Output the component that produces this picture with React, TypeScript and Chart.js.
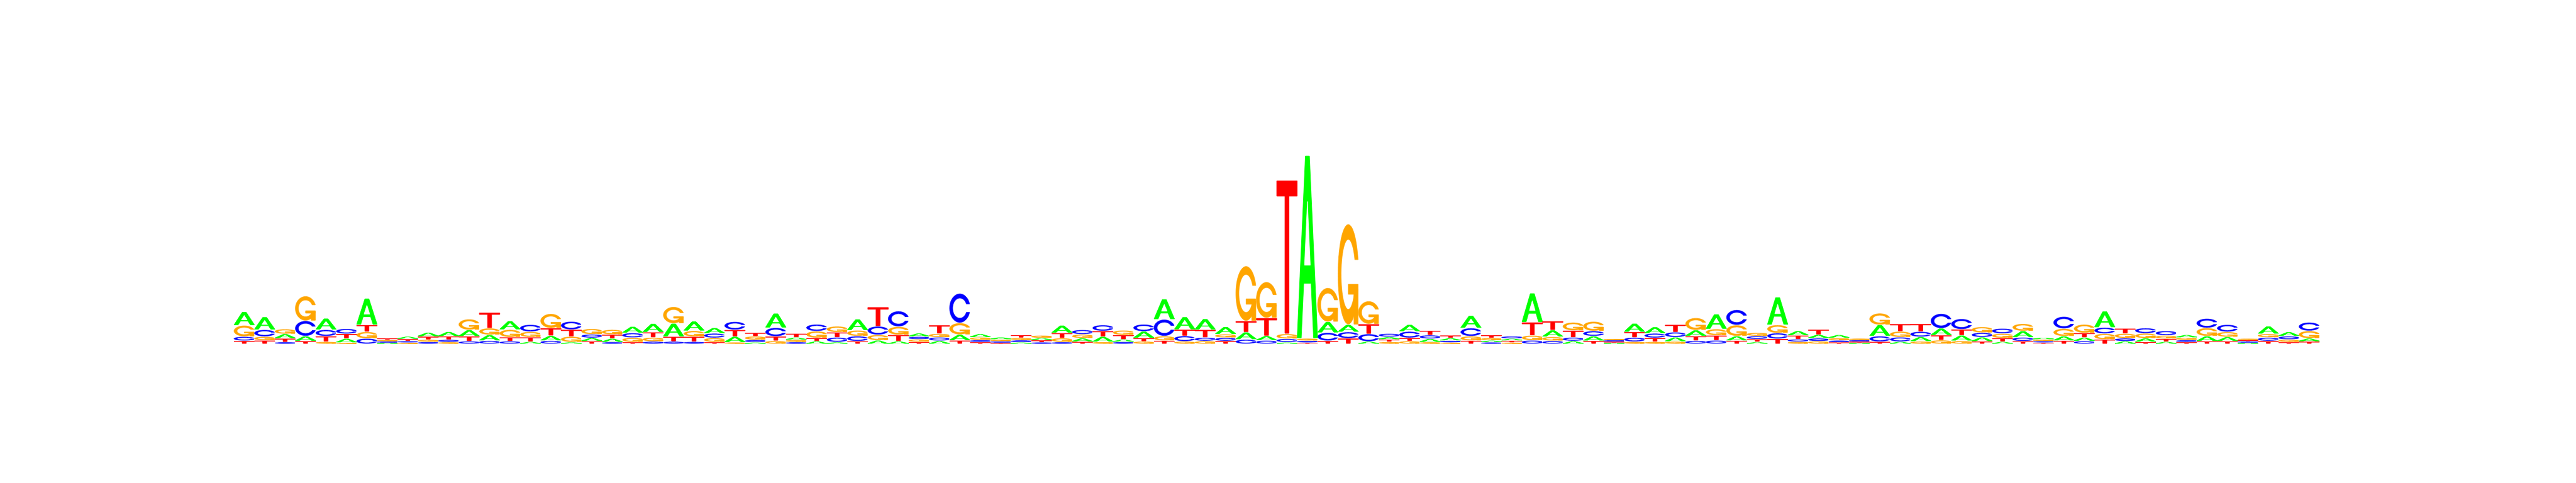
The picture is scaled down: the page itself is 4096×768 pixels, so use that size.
import React, { useEffect, useRef } from "react";
import { Chart, registerables } from "chart.js";

Chart.register(...registerables);

// Sequence positions (1..102)
const positions: string[] = Array.from({ length: 102 }, (_, i) => String(i + 1));

// Letter heights (bits) per position
const heightA: number[] = [
  0.128, 0.120, 0.036, 0.040, 0.106, 0.031, 0.260, 0.002, 0.016, 0.031,
  0.036, 0.055, 0.049, 0.078, 0.013, 0.040, 0.009, 0.024, 0.026, 0.055,
  0.077, 0.124, 0.087, 0.046, 0.049, 0.007, 0.137, 0.015, 0.018, 0.009,
  0.104, 0.027, 0.018, 0.024, 0.022, 0.049, 0.024, 0.013, 0.007, 0.013,
  0.067, 0.026, 0.044, 0.015, 0.058, 0.197, 0.118, 0.100, 0.064, 0.064,
  0.036, 0.007, 1.852, 0.100, 0.064, 0.015, 0.016, 0.060, 0.024, 0.016,
  0.117, 0.009, 0.011, 0.286, 0.058, 0.020, 0.038, 0.002, 0.077, 0.055,
  0.033, 0.051, 0.142, 0.036, 0.011, 0.273, 0.036, 0.027, 0.022, 0.002,
  0.104, 0.013, 0.036, 0.060, 0.046, 0.033, 0.013, 0.055, 0.009, 0.035,
  0.026, 0.155, 0.018, 0.027, 0.013, 0.018, 0.042, 0.033, 0.002, 0.067,
  0.033, 0.022,
];
const heightC: number[] = [
  0.033, 0.060, 0.009, 0.146, 0.056, 0.042, 0.046, 0.004, 0.005, 0.011,
  0.015, 0.018, 0.024, 0.018, 0.062, 0.024, 0.073, 0.026, 0.009, 0.038,
  0.015, 0.015, 0.013, 0.036, 0.073, 0.015, 0.078, 0.009, 0.060, 0.038,
  0.042, 0.077, 0.149, 0.018, 0.026, 0.291, 0.011, 0.005, 0.011, 0.007,
  0.009, 0.036, 0.051, 0.011, 0.062, 0.160, 0.046, 0.026, 0.024, 0.036,
  0.026, 0.026, 0.009, 0.073, 0.055, 0.067, 0.024, 0.055, 0.027, 0.009,
  0.073, 0.007, 0.013, 0.027, 0.022, 0.027, 0.042, 0.004, 0.033, 0.036,
  0.042, 0.024, 0.027, 0.146, 0.022, 0.049, 0.015, 0.020, 0.009, 0.005,
  0.047, 0.036, 0.044, 0.140, 0.097, 0.036, 0.042, 0.029, 0.005, 0.113,
  0.020, 0.053, 0.020, 0.044, 0.036, 0.011, 0.086, 0.064, 0.004, 0.026,
  0.024, 0.077,
];
const heightG: number[] = [
  0.104, 0.029, 0.040, 0.242, 0.013, 0.004, 0.058, 0.005, 0.004, 0.013,
  0.009, 0.100, 0.058, 0.067, 0.046, 0.137, 0.047, 0.047, 0.040, 0.035,
  0.031, 0.160, 0.049, 0.033, 0.007, 0.026, 0.022, 0.013, 0.058, 0.051,
  0.049, 0.046, 0.073, 0.016, 0.027, 0.109, 0.018, 0.009, 0.015, 0.016,
  0.031, 0.029, 0.011, 0.038, 0.016, 0.036, 0.016, 0.020, 0.026, 0.550,
  0.357, 0.040, 0.013, 0.337, 1.015, 0.224, 0.011, 0.020, 0.009, 0.005,
  0.035, 0.016, 0.005, 0.040, 0.031, 0.073, 0.087, 0.005, 0.013, 0.013,
  0.015, 0.115, 0.055, 0.102, 0.024, 0.073, 0.013, 0.018, 0.015, 0.007,
  0.109, 0.049, 0.016, 0.029, 0.022, 0.049, 0.036, 0.064, 0.007, 0.067,
  0.077, 0.049, 0.038, 0.040, 0.024, 0.015, 0.073, 0.042, 0.005, 0.027,
  0.016, 0.066,
];
const heightT: number[] = [
  0.022, 0.026, 0.027, 0.020, 0.046, 0.038, 0.060, 0.007, 0.011, 0.022,
  0.024, 0.040, 0.149, 0.031, 0.036, 0.067, 0.060, 0.018, 0.031, 0.009,
  0.044, 0.040, 0.042, 0.009, 0.058, 0.027, 0.035, 0.029, 0.024, 0.042,
  0.018, 0.186, 0.055, 0.011, 0.077, 0.026, 0.009, 0.002, 0.018, 0.011,
  0.042, 0.013, 0.047, 0.035, 0.024, 0.024, 0.055, 0.069, 0.020, 0.104,
  0.173, 1.552, 0.004, 0.022, 0.047, 0.091, 0.015, 0.022, 0.036, 0.018,
  0.024, 0.018, 0.009, 0.124, 0.082, 0.060, 0.022, 0.002, 0.046, 0.029,
  0.067, 0.036, 0.040, 0.024, 0.018, 0.042, 0.029, 0.042, 0.007, 0.002,
  0.013, 0.066, 0.069, 0.040, 0.051, 0.016, 0.027, 0.018, 0.004, 0.024,
  0.036, 0.036, 0.042, 0.011, 0.020, 0.009, 0.018, 0.018, 0.004, 0.020,
  0.009, 0.015,
];

const letterNames = ["A", "C", "G", "T"];
const letterColors: Record<string, string> = {
  A: "#00FF00",
  C: "#0000FF",
  G: "#FFA500",
  T: "#FF0000",
};
const LETTER_GAP = 0.01; // bits between stacked letters (as in seqLogo)

// ---------- glyph shapes (unit square, y up) ----------
type Pt = [number, number];

function seq(a: number, b: number, n: number): number[] {
  const out: number[] = [];
  for (let i = 0; i < n; i++) out.push(a + ((b - a) * i) / (n - 1));
  return out;
}

function buildC(): { poly: Pt[]; r1: number } {
  const a1 = seq(0.3 + Math.PI / 2, Math.PI, 100);
  const a2 = seq(Math.PI, 1.5 * Math.PI, 100);
  const xl1 = a1.map((a) => 0.5 + 0.5 * Math.sin(a));
  const yl1 = a1.map((a) => 0.5 + 0.5 * Math.cos(a));
  const xl2 = a2.map((a) => 0.5 + 0.5 * Math.sin(a));
  const yl2 = a2.map((a) => 0.5 + 0.5 * Math.cos(a));
  const xl = [...xl1, ...xl2];
  const yl = [...yl1, ...yl2];
  const x = [...xl, ...xl.slice().reverse()];
  const y = [...yl, ...yl.slice().reverse().map((v) => 1 - v)];
  const maxY = Math.max(...yl1);
  let xi1 = a1.map((a) => 0.5 + 0.35 * Math.sin(a));
  let yi1 = a1.map((a) => 0.5 + 0.35 * Math.cos(a));
  const keep = yi1.map((v) => v <= maxY);
  xi1 = xi1.filter((_, k) => keep[k]);
  yi1 = yi1.filter((_, k) => keep[k]);
  yi1[0] = maxY;
  const xi2 = a2.map((a) => 0.5 + 0.35 * Math.sin(a));
  const yi2 = a2.map((a) => 0.5 + 0.35 * Math.cos(a));
  const xi = [...xi1, ...xi2];
  const yi = [...yi1, ...yi2];
  const x1 = [...xi, ...xi.slice().reverse()];
  const y1 = [...yi, ...yi.slice().reverse().map((v) => 1 - v)];
  const X = [...x, ...x1.slice().reverse()];
  const Y = [...y, ...y1.slice().reverse()];
  return { poly: X.map((v, k) => [v, Y[k]] as Pt), r1: Math.max(...xl1) };
}

const cGlyph = buildC();
const r1 = cGlyph.r1;
const h1 = 0.4;
const shapes: Record<string, { polys: Pt[][]; fills: string[] }> = {
  A: {
    polys: [
      [[0, 0], [0.4, 1], [0.6, 1], [1, 0], [0.8, 0], [0.68, 0.3], [0.32, 0.3], [0.2, 0], [0, 0]],
      [[0.36, 0.4], [0.5, 0.75], [0.64, 0.4], [0.36, 0.4]],
    ],
    fills: [letterColors.A, "#FFFFFF"],
  },
  C: { polys: [cGlyph.poly], fills: [letterColors.C] },
  G: {
    polys: [
      cGlyph.poly,
      [[r1, h1], [0.5, h1], [0.5, h1 - 0.1], [r1 - 0.2, h1 - 0.1], [r1 - 0.2, 0], [r1, 0], [r1, h1]],
    ],
    fills: [letterColors.G, letterColors.G],
  },
  T: {
    polys: [[[0, 1], [1, 1], [1, 0.9], [0.6, 0.9], [0.6, 0], [0.4, 0], [0.4, 0.9], [0, 0.9]]],
    fills: [letterColors.T],
  },
};

function drawLetter(ctx: CanvasRenderingContext2D, letter: string, left: number, bottom: number, w: number, h: number) {
  const s = shapes[letter];
  if (!s) return;
  s.polys.forEach((poly, k) => {
    ctx.beginPath();
    poly.forEach(([px, py], j) => {
      const X = left + px * w;
      const Y = bottom - py * h;
      if (j === 0) ctx.moveTo(X, Y);
      else ctx.lineTo(X, Y);
    });
    ctx.closePath();
    ctx.fillStyle = s.fills[k];
    ctx.strokeStyle = s.fills[k];
    ctx.lineWidth = 0.85;
    ctx.lineJoin = "miter";
    ctx.fill();
    ctx.stroke();
  });
}

const logoPlugin = {
  id: "logoLetters",
  afterDatasetsDraw(chart: any) {
    const ctx: CanvasRenderingContext2D = chart.ctx;
    ctx.save();
    chart.data.datasets.forEach((ds: any, di: number) => {
      const meta = chart.getDatasetMeta(di);
      meta.data.forEach((bar: any, i: number) => {
        const { x, y, base, width } = bar.getProps(["x", "y", "base", "width"], true);
        const top = Math.min(y, base);
        const bottom = Math.max(y, base);
        const h = bottom - top;
        if (!(h > 0)) return;
        drawLetter(ctx, ds.letters[i], x - width / 2, bottom, width, h);
      });
    });
    ctx.restore();
  },
};

function buildDatasets() {
  const series = [heightA, heightC, heightG, heightT];
  const rankLetters: string[][] = [[], [], [], []];
  const rankRanges: [number, number][][] = [[], [], [], []];
  for (let i = 0; i < positions.length; i++) {
    const order = [0, 1, 2, 3].sort((a, b) => series[a][i] - series[b][i] || a - b);
    let y = 0;
    order.forEach((li, r) => {
      const h = series[li][i];
      rankLetters[r].push(letterNames[li]);
      rankRanges[r].push([y, y + h]);
      y += h + LETTER_GAP;
    });
  }
  return rankRanges.map((data, r) => ({
    label: "rank " + (r + 1),
    data,
    letters: rankLetters[r],
    backgroundColor: "rgba(0,0,0,0)",
    borderWidth: 0,
    grouped: false,
    barPercentage: 1,
    categoryPercentage: 1,
  }));
}

export default function App() {
  const ref = useRef<HTMLCanvasElement | null>(null);
  useEffect(() => {
    document.body.style.margin = "0";
    const canvas = ref.current;
    if (!canvas) return;
    const chart = new Chart(canvas, {
      type: "bar",
      data: { labels: positions, datasets: buildDatasets() as any },
      options: {
        animation: false,
        responsive: false,
        devicePixelRatio: 1,
        events: [],
        layout: { padding: { left: 372.1, right: 407.9, top: 233.8, bottom: 221.9 } },
        plugins: { legend: { display: false }, tooltip: { enabled: false } },
        scales: {
          x: { type: "category", display: false, offset: true, grid: { display: false } },
          y: { type: "linear", display: false, min: 0, max: 2, grid: { display: false } },
        },
      } as any,
      plugins: [logoPlugin],
    });
    return () => chart.destroy();
  }, []);
  return (
    <div style={{ position: "fixed", left: 0, top: 0, width: 4096, height: 768, background: "#fff" }}>
      <canvas ref={ref} width={4096} height={768} style={{ width: 4096, height: 768, display: "block" }} />
    </div>
  );
}
